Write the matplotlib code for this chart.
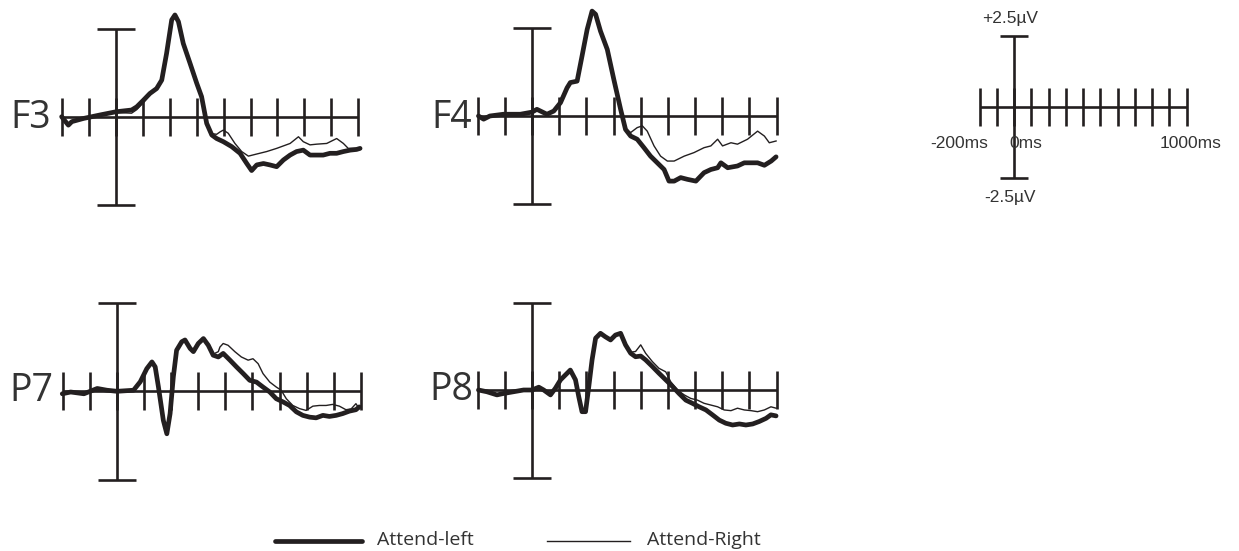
import matplotlib
matplotlib.use("Agg")
import matplotlib.pyplot as plt
import numpy as np

# ---------------- data (ms, µV) ----------------
f3_left_t = [-202, -177, -164, -121, -59, 0, 58, 77, 102, 126, 151, 170, 188, 207, 219, 232, 250, 275, 300, 318, 337, 356, 374, 399, 430, 461, 486, 504, 523, 548, 572, 597, 622, 647, 671, 696, 721, 746, 770, 795, 820, 845, 870, 894, 907]
f3_left_v = [0.0, -0.24, -0.14, -0.05, 0.05, 0.14, 0.19, 0.28, 0.47, 0.66, 0.80, 1.04, 1.80, 2.75, 2.89, 2.70, 2.08, 1.52, 0.95, 0.57, -0.19, -0.52, -0.62, -0.71, -0.85, -1.04, -1.33, -1.53, -1.37, -1.33, -1.37, -1.42, -1.23, -1.09, -0.99, -0.95, -1.09, -1.09, -1.09, -1.04, -1.04, -0.99, -0.95, -0.93, -0.90]
f3_right_t = [-202, -177, -164, -121, -59, 0, 58, 77, 102, 126, 151, 170, 188, 207, 219, 232, 250, 275, 300, 318, 337, 356, 374, 387, 399, 417, 442, 467, 492, 523, 560, 597, 622, 647, 678, 696, 721, 746, 783, 820, 845, 863, 882, 907]
f3_right_v = [0.0, -0.22, -0.13, -0.05, 0.05, 0.12, 0.10, 0.20, 0.40, 0.62, 0.78, 1.02, 1.78, 2.72, 2.86, 2.68, 2.05, 1.50, 0.93, 0.55, -0.17, -0.48, -0.50, -0.43, -0.38, -0.47, -0.76, -0.99, -1.12, -1.06, -0.99, -0.90, -0.83, -0.76, -0.57, -0.71, -0.80, -0.78, -0.76, -0.62, -0.76, -0.90, -0.90, -0.90]

f4_left_t = [-197, -178, -155, -105, -43, 0, 18, 55, 80, 105, 129, 141, 166, 184, 203, 221, 234, 252, 277, 301, 326, 344, 363, 387, 412, 436, 461, 486, 504, 523, 547, 572, 603, 633, 658, 683, 695, 720, 756, 781, 806, 830, 855, 880, 898]
f4_left_v = [0.0, -0.09, 0.0, 0.05, 0.05, 0.11, 0.19, 0.05, 0.14, 0.38, 0.80, 0.95, 0.99, 1.70, 2.46, 2.98, 2.89, 2.41, 1.89, 1.04, 0.19, -0.38, -0.57, -0.66, -0.90, -1.14, -1.33, -1.52, -1.85, -1.85, -1.75, -1.80, -1.85, -1.61, -1.52, -1.47, -1.33, -1.47, -1.42, -1.33, -1.33, -1.33, -1.40, -1.28, -1.16]
f4_right_t = [-197, -178, -155, -105, -43, 0, 18, 55, 80, 105, 129, 141, 166, 184, 203, 221, 234, 252, 277, 301, 326, 344, 363, 387, 406, 424, 449, 473, 498, 523, 560, 596, 633, 658, 683, 701, 732, 756, 793, 830, 855, 873, 898]
f4_right_v = [0.0, -0.08, 0.0, 0.05, 0.05, 0.10, 0.17, 0.04, 0.12, 0.35, 0.78, 0.93, 0.97, 1.68, 2.44, 2.95, 2.86, 2.38, 1.86, 1.02, 0.17, -0.36, -0.47, -0.33, -0.28, -0.43, -0.85, -1.14, -1.28, -1.28, -1.14, -1.04, -0.90, -0.85, -0.66, -0.85, -0.76, -0.80, -0.66, -0.43, -0.57, -0.76, -0.71]

p7_left_t = [-202, -171, -122, -73, -37, 0, 61, 86, 110, 129, 141, 153, 171, 184, 196, 208, 220, 239, 251, 270, 282, 300, 319, 337, 355, 374, 392, 417, 441, 466, 490, 515, 539, 564, 588, 613, 637, 662, 686, 711, 735, 760, 784, 809, 833, 858, 882, 894]
p7_left_v = [-0.07, -0.02, -0.07, 0.08, 0.03, 0.0, 0.03, 0.27, 0.64, 0.83, 0.69, 0.12, -0.82, -1.20, -0.63, 0.41, 1.16, 1.40, 1.45, 1.21, 1.12, 1.35, 1.49, 1.30, 1.02, 0.97, 1.07, 0.88, 0.69, 0.50, 0.31, 0.26, 0.12, -0.02, -0.21, -0.30, -0.40, -0.58, -0.68, -0.73, -0.75, -0.68, -0.71, -0.68, -0.63, -0.56, -0.52, -0.44]
p7_right_t = [-202, -171, -122, -73, -37, 0, 61, 86, 110, 129, 141, 153, 171, 184, 196, 208, 220, 239, 251, 270, 282, 300, 319, 337, 355, 374, 380, 392, 410, 435, 459, 484, 502, 521, 539, 564, 588, 606, 625, 649, 674, 698, 723, 747, 772, 796, 821, 845, 864, 882, 894]
p7_right_v = [-0.07, -0.02, -0.07, 0.08, 0.03, 0.0, 0.03, 0.25, 0.62, 0.81, 0.67, 0.10, -0.80, -1.18, -0.61, 0.43, 1.18, 1.42, 1.47, 1.23, 1.14, 1.37, 1.51, 1.32, 1.05, 1.12, 1.25, 1.35, 1.30, 1.12, 0.97, 0.88, 0.92, 0.78, 0.50, 0.26, 0.12, 0.03, -0.21, -0.40, -0.49, -0.54, -0.42, -0.40, -0.40, -0.37, -0.42, -0.52, -0.50, -0.35, -0.49]

p8_left_t = [-197, -166, -129, -105, -68, -31, 0, 25, 43, 68, 86, 105, 123, 141, 160, 172, 184, 197, 209, 221, 234, 252, 270, 289, 307, 326, 344, 363, 381, 400, 418, 443, 467, 492, 517, 541, 566, 590, 615, 640, 664, 689, 713, 738, 763, 787, 812, 836, 861, 879, 898]
p8_left_v = [0.0, -0.05, -0.14, -0.10, -0.05, 0.0, 0.0, 0.08, 0.0, -0.14, 0.05, 0.29, 0.43, 0.57, 0.29, -0.19, -0.62, -0.62, 0.10, 0.86, 1.48, 1.62, 1.52, 1.43, 1.57, 1.62, 1.29, 1.05, 0.95, 0.97, 0.86, 0.67, 0.48, 0.29, 0.10, -0.10, -0.29, -0.38, -0.48, -0.57, -0.71, -0.86, -0.95, -1.00, -0.97, -1.00, -0.97, -0.90, -0.81, -0.71, -0.74]
p8_right_t = [-197, -166, -129, -105, -68, -31, 0, 25, 43, 68, 86, 105, 123, 141, 160, 172, 184, 197, 209, 221, 234, 252, 270, 289, 307, 326, 344, 363, 381, 400, 418, 443, 467, 492, 510, 535, 560, 584, 609, 633, 658, 683, 707, 732, 756, 781, 806, 830, 855, 879, 898]
p8_right_v = [0.0, -0.05, -0.13, -0.10, -0.05, 0.0, 0.0, 0.07, 0.0, -0.13, 0.04, 0.27, 0.41, 0.55, 0.27, -0.17, -0.60, -0.60, 0.12, 0.88, 1.50, 1.64, 1.54, 1.45, 1.59, 1.64, 1.31, 1.08, 1.10, 1.29, 1.05, 0.81, 0.62, 0.52, 0.24, 0.0, -0.14, -0.24, -0.29, -0.38, -0.43, -0.48, -0.57, -0.59, -0.52, -0.57, -0.59, -0.62, -0.57, -0.48, -0.52]

panel_names = ["F3", "F4", "P7", "P8"]
panel_ticks_ms = list(range(-200, 901, 100))
scale_ticks_ms = list(range(-200, 1001, 100))
bar_uv = 2.5
legend_labels = ["Attend-left", "Attend-Right"]
scale_labels = ["+2.5µV", "-2.5µV", "-200ms", "0ms", "1000ms"]

# ---------------- layout ----------------
W, H = 1239, 551
fig = plt.figure(figsize=(W / 100, H / 100), dpi=100)
INK = "#231f20"

def add_axes_px(x0, y0, sx, sy, xlim, ylim):
    left = x0 + xlim[0] * sx
    right = x0 + xlim[1] * sx
    top = y0 - ylim[1] * sy
    bottom = y0 - ylim[0] * sy
    ax = fig.add_axes([left / W, 1 - bottom / H, (right - left) / W, (bottom - top) / H])
    ax.set_xlim(*xlim)
    ax.set_ylim(*ylim)
    ax.axis("off")
    return ax

def draw_cross(ax, ticks, tick_h, cap_w, lw=1.9):
    ax.hlines(0, ticks[0], ticks[-1], color=INK, lw=lw, zorder=1)
    ax.vlines(ticks, -tick_h, tick_h, color=INK, lw=lw, zorder=1)
    ax.vlines(0, -bar_uv, bar_uv, color=INK, lw=lw, zorder=1)
    ax.hlines([-bar_uv, bar_uv], -cap_w, cap_w, color=INK, lw=lw, zorder=1)

panels = [
    ("F3", 116, 116.7, 0.2691, 35.2, f3_left_t, f3_left_v, f3_right_t, f3_right_v, (31, 118)),
    ("F4", 532, 116.0, 0.2718, 35.2, f4_left_t, f4_left_v, f4_right_t, f4_right_v, (452, 118)),
    ("P7", 117, 391.3, 0.2709, 35.4, p7_left_t, p7_left_v, p7_right_t, p7_right_v, (31, 391)),
    ("P8", 532, 390.0, 0.2718, 35.0, p8_left_t, p8_left_v, p8_right_t, p8_right_v, (451, 390)),
]

for name, x0, y0, sx, sy, lt, lv, rt, rv, lab in panels:
    ax = add_axes_px(x0, y0, sx, sy, (-260, 960), (-3.2, 3.4))
    draw_cross(ax, panel_ticks_ms, 0.54, 70)
    ax.plot(rt, rv, color=INK, lw=1.0, zorder=2, solid_joinstyle="round")
    ax.plot(lt, lv, color=INK, lw=3.4, zorder=3, solid_joinstyle="round", solid_capstyle="round")
    fig.text(lab[0] / W, 1 - lab[1] / H, name, fontsize=27, family="Open Sans",
             color="#333333", ha="center", va="center")

# ---------------- scale panel ----------------
sax = add_axes_px(1014, 107, 0.1725, 28.4, (-500, 1300), (-3.8, 3.8))
draw_cross(sax, scale_ticks_ms, 0.66, 80)
tf = dict(family="Liberation Sans", fontsize=12.5, color="#333333", va="center")
sax.text(-23, 3.13, scale_labels[0], ha="center", **tf)
sax.text(-23, -3.17, scale_labels[1], ha="center", **tf)
sax.text(-319, -1.27, scale_labels[2], ha="center", **tf)
sax.text(70, -1.27, scale_labels[3], ha="center", **tf)
sax.text(1026, -1.27, scale_labels[4], ha="center", **tf)

# ---------------- legend ----------------
lax = fig.add_axes([0, 0, 1, 1])
lax.set_xlim(0, W)
lax.set_ylim(H, 0)
lax.axis("off")
lax.plot([275, 362], [541, 541], color=INK, lw=3.4, solid_capstyle="round")
lax.plot([547, 630], [541, 541], color=INK, lw=1.0)
lf = dict(family="Open Sans", fontsize=14, color="#333333", va="center", ha="left")
lax.text(377, 540, legend_labels[0], **lf)
lax.text(647, 540, legend_labels[1], **lf)

fig.savefig("out.png", dpi=100, facecolor="white")
